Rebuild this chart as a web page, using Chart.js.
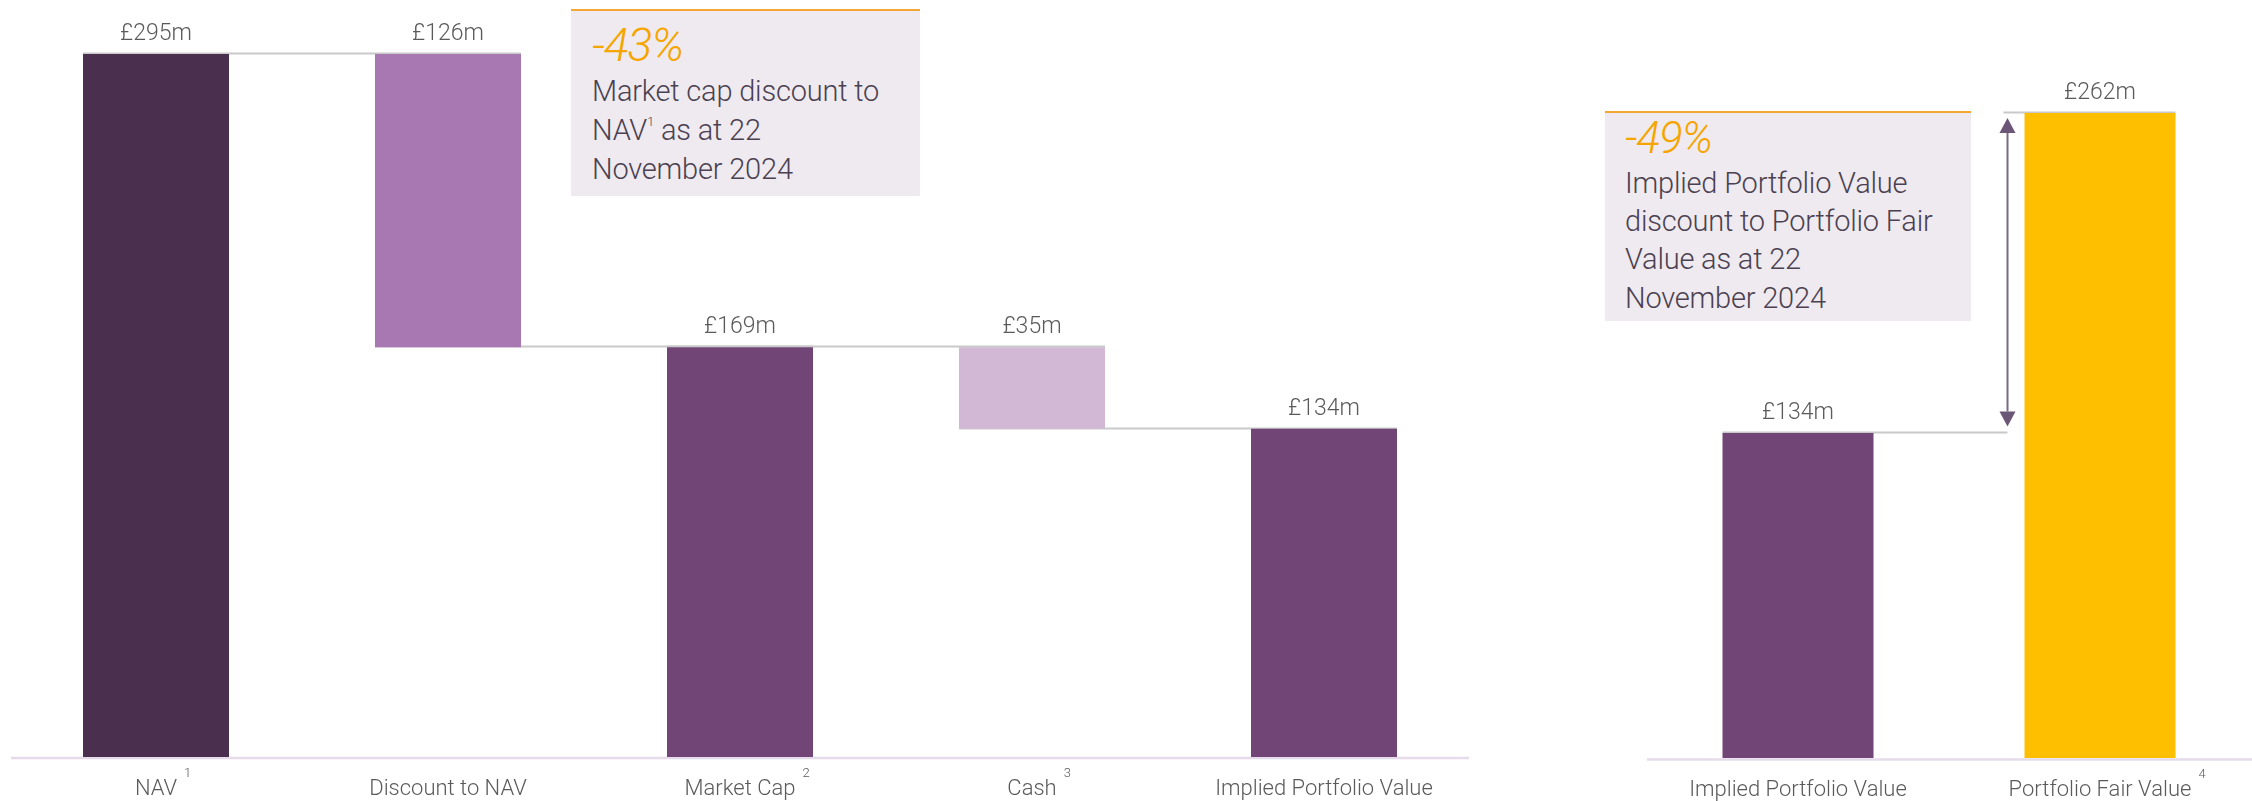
<!DOCTYPE html>
<html>
<head>
<meta charset="utf-8">
<script src="https://cdn.jsdelivr.net/npm/chart.js@4.4.1/dist/chart.umd.min.js"></script>
<style>
  html, body { margin:0; padding:0; background:#ffffff; width:2252px; height:801px; overflow:hidden; }
  body { font-family: Roboto, "Open Sans", Lato, sans-serif; position:relative; }
  #leftChart { position:absolute; left:0; top:0; }
  #rightChart { position:absolute; left:1480px; top:0; }
  .box { position:absolute; background:#efeaf0; border-top:2px solid #f3a833; box-sizing:border-box; }
  .box div { position:absolute; left:21px; white-space:nowrap; font-weight:300; color:#4b4150; font-size:29px; line-height:38px; letter-spacing:-0.2px; }
  .box div.pct { color:#f6a500; font-style:italic; font-size:46px; line-height:50px; letter-spacing:-1px; }
  .box sup { font-size:13px; vertical-align: 14px; line-height:0; }
</style>
</head>
<body>
<canvas id="leftChart" width="1480" height="801"></canvas>
<canvas id="rightChart" width="772" height="801"></canvas>

<div class="box" id="box1" style="left:571px; top:9px; width:349px; height:187px;">
  <div class="pct" style="top:9px;">-43%</div>
  <div style="top:61px;">Market cap discount to</div>
  <div style="top:100px;">NAV<sup>1</sup> as at 22</div>
  <div style="top:139px;">November 2024</div>
</div>

<div class="box" id="box2" style="left:1605px; top:111px; width:366px; height:210px;">
  <div class="pct" style="top:1px; left:20px; font-size:44px; line-height:48px;">-49%</div>
  <div style="top:51px; left:20px;">Implied Portfolio Value</div>
  <div style="top:89px; left:20px;">discount to Portfolio Fair</div>
  <div style="top:127px; left:20px;">Value as at 22</div>
  <div style="top:166px; left:20px;">November 2024</div>
</div>

<script>
// ---------- data (£m) ----------
const leftCategories = ['NAV', 'Discount to NAV', 'Market Cap', 'Cash', 'Implied Portfolio Value'];
const leftFootnotes  = ['1', '', '2', '3', ''];
const leftAmounts    = [295, 126, 169, 35, 134];          // value shown above each bar
const leftBarTops    = [295, 295, 169, 169, 134];
const leftBarBottoms = [null, 169, null, 134, null];     // null = total bar rising from the axis
const leftColors     = ['#4b2f4f', '#a878b2', '#714677', '#d3b8d6', '#714677'];

const rightCategories = ['Implied Portfolio Value', 'Portfolio Fair Value'];
const rightFootnotes  = ['', '4'];
const rightAmounts    = [134, 262];
const rightColors     = ['#714677', '#fdbf00'];

// ---------- scale settings ----------
const LEFT_Y_MIN = -7, LEFT_Y_MAX = 318.2;
const RIGHT_Y_MIN = 4, RIGHT_Y_MAX = 307.2;

const FONT = 'Roboto, "Open Sans", Lato, sans-serif';
const TEXT_COLOR = '#5a5a5a';
const CONNECTOR_COLOR = '#c9c9c9';
const AXIS_COLOR = '#e6dbeb';

function fmt(v) { return '\u00A3' + v + 'm'; }

function drawCategoryLabels(chart, cats, notes) {
  const ctx = chart.ctx, xs = chart.scales.x, area = chart.chartArea;
  ctx.save();
  ctx.fillStyle = TEXT_COLOR;
  ctx.textBaseline = 'alphabetic';
  cats.forEach((c, i) => {
    const cx = xs.getPixelForValue(i);
    ctx.font = '300 22px ' + FONT;
    ctx.textAlign = 'center';
    ctx.fillText(c, cx, area.bottom + 38);
    if (notes[i]) {
      const w = ctx.measureText(c).width;
      ctx.font = '300 13px ' + FONT;
      ctx.textAlign = 'left';
      ctx.fillText(notes[i], cx + w / 2 + 7, area.bottom + 20);
    }
  });
  ctx.restore();
}

function drawValueLabels(chart, amounts, tops) {
  const ctx = chart.ctx, xs = chart.scales.x, ys = chart.scales.y;
  ctx.save();
  ctx.fillStyle = TEXT_COLOR;
  ctx.font = '300 23px ' + FONT;
  ctx.textAlign = 'center';
  ctx.textBaseline = 'alphabetic';
  amounts.forEach((a, i) => {
    ctx.fillText(fmt(a), xs.getPixelForValue(i), ys.getPixelForValue(tops[i]) - 14);
  });
  ctx.restore();
}

function hLine(ctx, x1, x2, y, color, w) {
  ctx.save();
  ctx.strokeStyle = color; ctx.lineWidth = w;
  ctx.beginPath(); ctx.moveTo(x1, y); ctx.lineTo(x2, y); ctx.stroke();
  ctx.restore();
}

// ---------- left chart (waterfall) ----------
const leftPlugin = {
  id: 'leftDecor',
  beforeDatasetsDraw(chart) {
    const ctx = chart.ctx, ys = chart.scales.y, area = chart.chartArea;
    const meta = chart.getDatasetMeta(0);
    for (let i = 0; i < leftCategories.length - 1; i++) {
      const level = leftBarBottoms[i] === null ? leftBarTops[i] : leftBarBottoms[i];
      const b0 = meta.data[i], b1 = meta.data[i + 1];
      const y = Math.round(ys.getPixelForValue(level)) - 0.5;
      hLine(ctx, b0.x - b0.width / 2, b1.x + b1.width / 2, y, CONNECTOR_COLOR, 2);
    }
    hLine(ctx, area.left + 1, area.right - 1, area.bottom + 1, AXIS_COLOR, 2.5);
  },
  afterDraw(chart) {
    drawValueLabels(chart, leftAmounts, leftBarTops);
    drawCategoryLabels(chart, leftCategories, leftFootnotes);
  }
};

new Chart(document.getElementById('leftChart'), {
  type: 'bar',
  data: {
    labels: leftCategories,
    datasets: [{
      data: leftBarTops.map((t, i) => [leftBarBottoms[i] === null ? LEFT_Y_MIN : leftBarBottoms[i], t]),
      backgroundColor: leftColors,
      borderWidth: 0,
      barPercentage: 1,
      categoryPercentage: 0.5
    }]
  },
  options: {
    responsive: false, animation: false, devicePixelRatio: 1,
    layout: { padding: { left: 10, right: 10, top: 0, bottom: 44 } },
    plugins: { legend: { display: false }, tooltip: { enabled: false } },
    scales: {
      x: { display: false },
      y: { display: false, min: LEFT_Y_MIN, max: LEFT_Y_MAX }
    }
  },
  plugins: [leftPlugin]
});

// ---------- right chart ----------
const rightPlugin = {
  id: 'rightDecor',
  beforeDatasetsDraw(chart) {
    const ctx = chart.ctx, ys = chart.scales.y, area = chart.chartArea;
    const meta = chart.getDatasetMeta(0);
    const b0 = meta.data[0], b1 = meta.data[1];
    const arrowX = b1.x - b1.width / 2 - 17;
    const yLow = Math.round(ys.getPixelForValue(rightAmounts[0])) - 0.5;
    const yHigh = Math.round(ys.getPixelForValue(rightAmounts[1])) - 0.5;
    hLine(ctx, b0.x - b0.width / 2, arrowX, yLow, CONNECTOR_COLOR, 2);
    hLine(ctx, arrowX - 4, b1.x + b1.width / 2, yHigh, CONNECTOR_COLOR, 2);
    hLine(ctx, area.left, area.right + 2, area.bottom + 1.5, AXIS_COLOR, 2.5);
    // double-headed arrow
    const top = yHigh + 5.5, bot = yLow - 6, hh = 15, hw = 8;
    ctx.save();
    ctx.strokeStyle = '#7d6a86'; ctx.lineWidth = 2;
    ctx.beginPath(); ctx.moveTo(arrowX, top + hh); ctx.lineTo(arrowX, bot - hh); ctx.stroke();
    ctx.fillStyle = '#6c5677';
    ctx.beginPath(); ctx.moveTo(arrowX, top); ctx.lineTo(arrowX - hw, top + hh); ctx.lineTo(arrowX + hw, top + hh); ctx.closePath(); ctx.fill();
    ctx.beginPath(); ctx.moveTo(arrowX, bot); ctx.lineTo(arrowX - hw, bot - hh); ctx.lineTo(arrowX + hw, bot - hh); ctx.closePath(); ctx.fill();
    ctx.restore();
  },
  afterDraw(chart) {
    drawValueLabels(chart, rightAmounts, rightAmounts);
    drawCategoryLabels(chart, rightCategories, rightFootnotes);
  }
};

new Chart(document.getElementById('rightChart'), {
  type: 'bar',
  data: {
    labels: rightCategories,
    datasets: [{
      data: rightAmounts.map(v => [RIGHT_Y_MIN, v]),
      backgroundColor: rightColors,
      borderWidth: 0,
      barPercentage: 1,
      categoryPercentage: 0.5
    }]
  },
  options: {
    responsive: false, animation: false, devicePixelRatio: 1,
    layout: { padding: { left: 167, right: 1, top: 0, bottom: 43 } },
    plugins: { legend: { display: false }, tooltip: { enabled: false } },
    scales: {
      x: { display: false },
      y: { display: false, min: RIGHT_Y_MIN, max: RIGHT_Y_MAX }
    }
  },
  plugins: [rightPlugin]
});
</script>
</body>
</html>
